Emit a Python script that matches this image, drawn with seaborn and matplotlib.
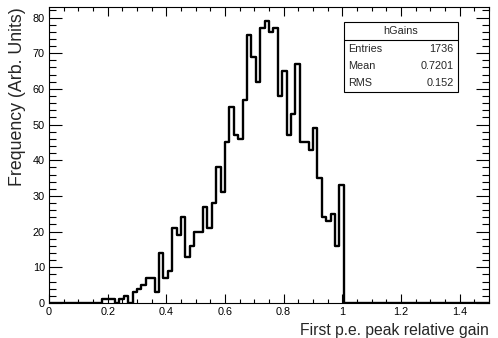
import numpy as np
import pandas as pd
import matplotlib
matplotlib.use("Agg")
import matplotlib.pyplot as plt
from matplotlib.ticker import MultipleLocator, FuncFormatter
from matplotlib.patches import Rectangle
import seaborn as sns

# histogram: 100 bins of 0.015 from 0 to 1.5, filled bins start at 0.18
bin_edges = np.linspace(0, 1.5, 101)
filled = [1, 1, 1, 0, 1, 2, 0, 3, 4, 5, 7, 7, 3, 14, 7, 9, 21, 19, 24, 13, 16, 20,
          20, 27, 21, 28, 38, 31, 45, 55, 47, 46, 57, 75, 69, 62, 77, 79, 76, 77,
          58, 65, 47, 53, 67, 45, 45, 43, 49, 35, 24, 23, 25, 16, 33]
counts = [0] * 12 + filled + [0] * 33

stat_title = "hGains"
stat_names = ["Entries", "Mean", "RMS"]
stat_values = ["1736", "0.7201", "0.152"]

df = pd.DataFrame({"gain": (bin_edges[:-1] + bin_edges[1:]) / 2, "n": counts})

sns.set_style("ticks")
plt.rcParams['font.family'] = ['Liberation Sans', 'DejaVu Sans']

fig = plt.figure(figsize=(4.98, 3.38), dpi=100)
ax = fig.add_axes([49 / 498, 35 / 338, 440 / 498, 296 / 338])

sns.histplot(data=df, x="gain", weights="n", binwidth=0.015, binrange=(0, 1.5),
             element="step", fill=False, color="black", linewidth=1.7, ax=ax)

ax.set_xlim(0, 1.5)
ax.set_ylim(0, 82.95)
ax.xaxis.set_major_locator(MultipleLocator(0.2))
ax.xaxis.set_minor_locator(MultipleLocator(0.05))
ax.yaxis.set_major_locator(MultipleLocator(10))
ax.yaxis.set_minor_locator(MultipleLocator(2))
ax.xaxis.set_major_formatter(FuncFormatter(lambda v, p: f"{v:g}"))
ax.yaxis.set_major_formatter(FuncFormatter(lambda v, p: f"{v:g}"))

ax.tick_params(axis="both", which="both", direction="in", top=True, right=True,
               width=0.8, labelsize=7.8, colors="black")
ax.tick_params(axis="x", which="major", length=6.5, pad=3)
ax.tick_params(axis="x", which="minor", length=3.2)
ax.tick_params(axis="y", which="major", length=9.4, pad=3)
ax.tick_params(axis="y", which="minor", length=4.7)
for s in ax.spines.values():
    s.set_visible(True)
    s.set_linewidth(0.8)
    s.set_color("black")

ax.set_xlabel("First p.e. peak relative gain", fontsize=11.3, loc="right", labelpad=4)
ax.set_ylabel("Frequency (Arb. Units)", fontsize=12.8, loc="top", labelpad=5)

# stats box
x0, x1 = 0.670, 0.930
y0, y1 = 0.713, 0.949
ydiv = 0.889
ax.add_patch(Rectangle((x0, y0), x1 - x0, y1 - y0, transform=ax.transAxes,
                       facecolor="white", edgecolor="black", linewidth=0.8, zorder=5))
ax.plot([x0, x1], [ydiv, ydiv], transform=ax.transAxes, color="black", linewidth=0.8, zorder=6)
ax.text((x0 + x1) / 2, (y1 + ydiv) / 2, stat_title, transform=ax.transAxes,
        ha="center", va="center", fontsize=7.8, zorder=7)
row_h = (ydiv - y0) / len(stat_names)
for i, (n, v) in enumerate(zip(stat_names, stat_values)):
    yc = ydiv - row_h * (i + 0.5)
    ax.text(x0 + 0.01, yc, n, transform=ax.transAxes, ha="left", va="center",
            fontsize=7.8, zorder=7)
    ax.text(x1 - 0.01, yc, v, transform=ax.transAxes, ha="right", va="center",
            fontsize=7.8, zorder=7)

fig.savefig("out.png", dpi=100)
